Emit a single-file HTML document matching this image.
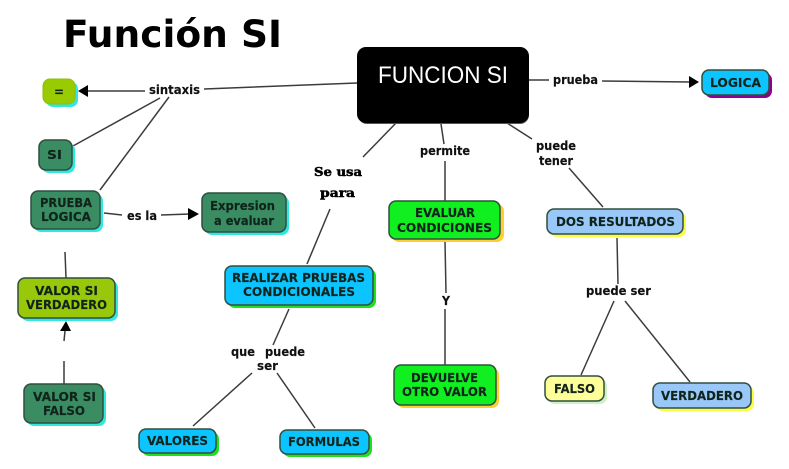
<!DOCTYPE html>
<html><head><meta charset="utf-8"><style>
html,body{margin:0;padding:0;background:#fff}
svg{display:block}
text{font-family:"DejaVu Sans","Liberation Sans",sans-serif;font-weight:bold;fill:#111;font-size:12px;stroke:#111;stroke-width:.15}
.n{fill:#10241c;stroke:#10241c}
.l{stroke:#3c3c3c;stroke-width:1.5;fill:none}
.b{stroke:#2f4f3f;stroke-width:1.5}
</style></head><body>
<svg width="789" height="469" viewBox="0 0 789 469" xmlns="http://www.w3.org/2000/svg">
<rect width="789" height="469" fill="#fff"/>
<text x="63" y="47" style="font-size:37px;fill:#000;stroke:none" textLength="219" lengthAdjust="spacingAndGlyphs">Función SI</text>

<g class="l">
<path d="M357 83L204 89M145 91L86 91M160 98L73 146M169 97L100 190"/>
<path d="M104 213L122 215M161 215L190 214"/>
<path d="M65 252L66 278M65 331L64 341M64 361L64 384"/>
<path d="M396 123L363 157M330 209L307 264M289 309L273 345M252 373L193 426M277 373L315 428"/>
<path d="M441 124L444 144M445 161L445 201M445 241L446 293M445 309L445 365"/>
<path d="M507 123L532 139M569 168L603 207M617 238L618 284M614 301L581 375M625 301L690 382"/>
<path d="M529 80L549 80M602 81L690 82"/>
</g>
<g fill="#000">
<path d="M78 91L88 85V97Z"/>
<path d="M199 214L188 208V220Z"/>
<path d="M66 321L60 331H71Z"/>
<path d="M699 82L689 76V88Z"/>
</g>

<!-- shadows -->
<rect x="46" y="82" width="32" height="25" rx="7" fill="#30e8e0"/>
<rect x="42" y="143" width="33" height="30" rx="7" fill="#30e8e0"/>
<rect x="34" y="194" width="69" height="38" rx="7" fill="#30e8e0"/>
<rect x="205" y="196" width="84" height="39" rx="7" fill="#30e8e0"/>
<rect x="21" y="281" width="97" height="40" rx="7" fill="#30e8e0"/>
<rect x="27" y="387" width="79" height="39" rx="7" fill="#30e8e0"/>
<rect x="228" y="269" width="148" height="39" rx="7" fill="#20e020"/>
<rect x="142" y="432" width="77" height="24" rx="7" fill="#20e020"/>
<rect x="283" y="433" width="89" height="24" rx="7" fill="#20e020"/>
<rect x="392" y="204" width="112" height="38" rx="7" fill="#fcd030"/>
<rect x="397" y="368" width="102" height="40" rx="7" fill="#fcd030"/>
<rect x="550" y="212" width="136" height="25" rx="7" fill="#fcfc40"/>
<rect x="705" y="73" width="67" height="25" rx="7" fill="#900090"/>
<rect x="548" y="379" width="59" height="25" rx="7" fill="#d0f0c8"/>
<rect x="656" y="386" width="98" height="25" rx="7" fill="#fcfc40"/>
<rect x="358" y="49" width="171" height="75" rx="9" fill="#555"/>

<!-- nodes -->
<rect x="43" y="79" width="32" height="25" rx="7" fill="#99cc00" stroke="#8cbc10"/>
<rect x="39" y="140" width="33" height="30" rx="7" fill="#3a8c62" class="b"/>
<rect x="31" y="191" width="69" height="38" rx="7" fill="#3a8c62" class="b"/>
<rect x="202" y="193" width="84" height="39" rx="7" fill="#3a8c62" class="b"/>
<rect x="18" y="278" width="97" height="40" rx="7" fill="#99c70a" class="b"/>
<rect x="24" y="384" width="79" height="39" rx="7" fill="#3a8c62" class="b"/>
<rect x="225" y="266" width="148" height="39" rx="7" fill="#0cc4ff" class="b"/>
<rect x="139" y="429" width="77" height="24" rx="7" fill="#0cc4ff" class="b"/>
<rect x="280" y="430" width="89" height="24" rx="7" fill="#0cc4ff" class="b"/>
<rect x="357" y="47" width="172" height="76" rx="9" fill="#000"/>
<rect x="389" y="201" width="111" height="38" rx="7" fill="#10f020" class="b"/>
<rect x="394" y="365" width="102" height="40" rx="7" fill="#10f020" class="b"/>
<rect x="547" y="209" width="136" height="25" rx="7" fill="#99c8f8" class="b"/>
<rect x="702" y="70" width="67" height="25" rx="7" fill="#0cc4ff" class="b"/>
<rect x="545" y="376" width="59" height="25" rx="7" fill="#ffff99" class="b"/>
<rect x="653" y="383" width="98" height="25" rx="7" fill="#99c8f8" class="b"/>

<!-- node labels -->
<text class="n" x="54" y="96" textLength="10" lengthAdjust="spacingAndGlyphs">=</text>
<text class="n" x="47" y="159" textLength="15" lengthAdjust="spacingAndGlyphs">SI</text>
<text class="n" x="40" y="207" textLength="52" lengthAdjust="spacingAndGlyphs">PRUEBA</text>
<text class="n" x="41" y="221" textLength="50" lengthAdjust="spacingAndGlyphs">LOGICA</text>
<text class="n" x="210" y="210" textLength="65" lengthAdjust="spacingAndGlyphs">Expresion</text>
<text class="n" x="214" y="225" textLength="60" lengthAdjust="spacingAndGlyphs">a evaluar</text>
<text class="n" x="35" y="295" textLength="63" lengthAdjust="spacingAndGlyphs">VALOR SI</text>
<text class="n" x="26" y="309" textLength="81" lengthAdjust="spacingAndGlyphs">VERDADERO</text>
<text class="n" x="33" y="401" textLength="63" lengthAdjust="spacingAndGlyphs">VALOR SI</text>
<text class="n" x="43" y="415" textLength="42" lengthAdjust="spacingAndGlyphs">FALSO</text>
<text class="n" x="232" y="282" textLength="133" lengthAdjust="spacingAndGlyphs">REALIZAR PRUEBAS</text>
<text class="n" x="243" y="296" textLength="112" lengthAdjust="spacingAndGlyphs">CONDICIONALES</text>
<text class="n" x="147" y="445" textLength="61" lengthAdjust="spacingAndGlyphs">VALORES</text>
<text class="n" x="288" y="446" textLength="72" lengthAdjust="spacingAndGlyphs">FORMULAS</text>
<text x="378" y="83" style="font-family:'Liberation Sans',sans-serif;font-weight:normal;font-size:24px;fill:#fff;stroke:none" textLength="130" lengthAdjust="spacingAndGlyphs">FUNCION SI</text>
<text class="n" x="415" y="217" textLength="60" lengthAdjust="spacingAndGlyphs">EVALUAR</text>
<text class="n" x="397" y="232" textLength="95" lengthAdjust="spacingAndGlyphs">CONDICIONES</text>
<text class="n" x="411" y="382" textLength="67" lengthAdjust="spacingAndGlyphs">DEVUELVE</text>
<text class="n" x="402" y="396" textLength="85" lengthAdjust="spacingAndGlyphs">OTRO VALOR</text>
<text class="n" x="556" y="226" textLength="119" lengthAdjust="spacingAndGlyphs">DOS RESULTADOS</text>
<text class="n" x="710" y="87" textLength="51" lengthAdjust="spacingAndGlyphs">LOGICA</text>
<text class="n" x="554" y="393" textLength="41" lengthAdjust="spacingAndGlyphs">FALSO</text>
<text class="n" x="661" y="400" textLength="82" lengthAdjust="spacingAndGlyphs">VERDADERO</text>

<!-- connector labels -->
<text x="149" y="94" textLength="51" lengthAdjust="spacingAndGlyphs">sintaxis</text>
<text x="553" y="84" textLength="45" lengthAdjust="spacingAndGlyphs">prueba</text>
<text x="420" y="155" textLength="50" lengthAdjust="spacingAndGlyphs">permite</text>
<text x="536" y="150" textLength="40" lengthAdjust="spacingAndGlyphs">puede</text>
<text x="539" y="165" textLength="34" lengthAdjust="spacingAndGlyphs">tener</text>
<text x="127" y="220" textLength="30" lengthAdjust="spacingAndGlyphs">es la</text>
<text x="231" y="356" textLength="24" lengthAdjust="spacingAndGlyphs">que</text>
<text x="265" y="356" textLength="40" lengthAdjust="spacingAndGlyphs">puede</text>
<text x="257" y="370" textLength="21" lengthAdjust="spacingAndGlyphs">ser</text>
<text x="586" y="295" textLength="65" lengthAdjust="spacingAndGlyphs">puede ser</text>
<text x="442" y="305" textLength="8" lengthAdjust="spacingAndGlyphs">Y</text>
<text x="314" y="176" style="font-family:'DejaVu Serif',serif;font-weight:bold;font-size:12px;fill:#000;stroke:#000;stroke-width:.5" textLength="48" lengthAdjust="spacingAndGlyphs">Se usa</text>
<text x="320" y="197" style="font-family:'DejaVu Serif',serif;font-weight:bold;font-size:12px;fill:#000;stroke:#000;stroke-width:.5" textLength="35" lengthAdjust="spacingAndGlyphs">para</text>
</svg>
</body></html>
